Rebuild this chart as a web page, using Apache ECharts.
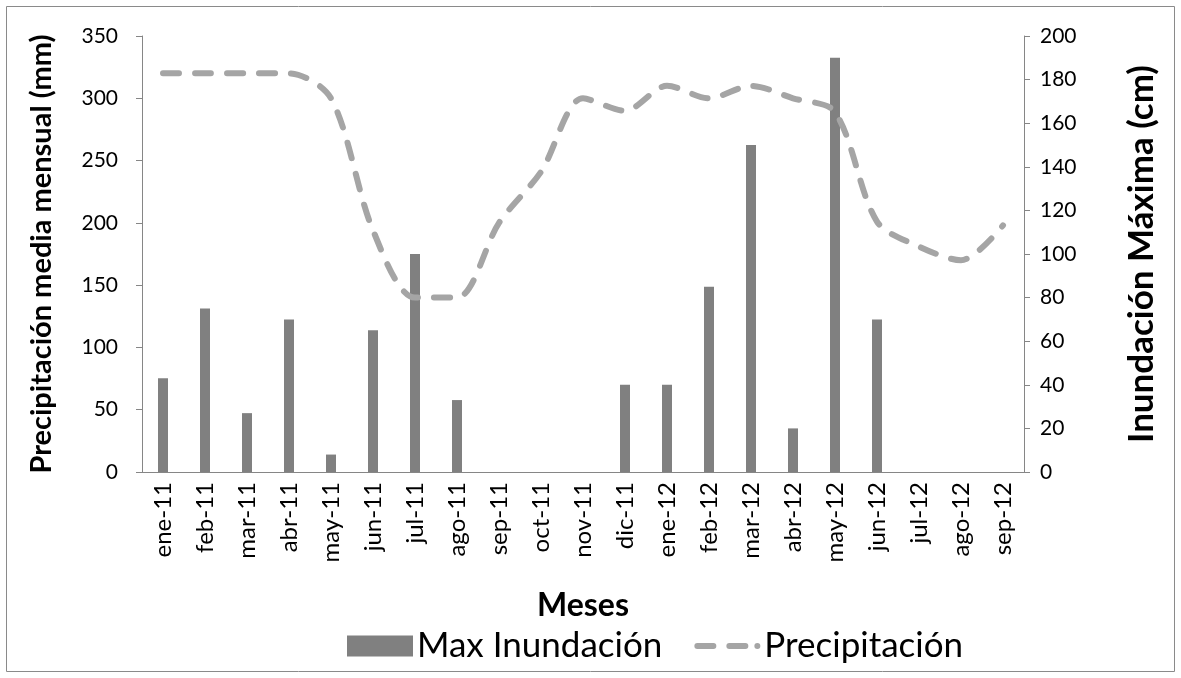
<!DOCTYPE html>
<html>
<head>
<meta charset="utf-8">
<script src="https://cdn.jsdelivr.net/npm/echarts@6/dist/echarts.min.js"></script>
<style>
  html, body { margin: 0; padding: 0; background: #fff; }
  #chart { width: 1181px; height: 678px; }
</style>
</head>
<body>
<div id="chart"></div>
<script>
// Months of the record (Jan 2011 – Sep 2012)
const meses = ['ene-11','feb-11','mar-11','abr-11','may-11','jun-11','jul-11','ago-11','sep-11','oct-11',
  'nov-11','dic-11','ene-12','feb-12','mar-12','abr-12','may-12','jun-12','jul-12','ago-12','sep-12'];

// Maximum flood depth per month (cm), right axis
const maxInundacion = [43, 75, 27, 70, 8, 65, 100, 33, 0, 0, 0, 40, 40, 85, 150, 20, 190, 70, 0, 0, 0];

// Mean monthly precipitation (mm), left axis
const precipitacion = [320, 320, 320, 320, 300, 194, 140, 140, 200, 241, 300, 290, 310, 300, 310, 300, 289, 201, 181, 170, 198];

const FONT = 'Lato, "Open Sans", sans-serif';

// Legend key for the dashed line: two rounded dashes and a dot in a 66x21 box
function capsule(a, b) {
  return 'M' + (a + 3) + ' 7.5L' + (b - 3) + ' 7.5A3 3 0 0 1 ' + (b - 3) + ' 13.5L' + (a + 3) +
    ' 13.5A3 3 0 0 1 ' + (a + 3) + ' 7.5Z';
}
const dashIcon = 'path://M0 0h0.01v0.01h-0.01Z M65.99 20.99h0.01v0.01h-0.01Z ' +
  capsule(0, 22) + ' ' + capsule(32, 54) + ' M60 10.5A3 3 0 1 1 66 10.5A3 3 0 1 1 60 10.5Z';

const chart = echarts.init(document.getElementById('chart'), null, { renderer: 'canvas' });

chart.setOption({
  backgroundColor: '#ffffff',
  animation: false,
  graphic: [{
    type: 'rect',
    shape: { x: 6.5, y: 6.5, width: 1168, height: 665 },
    style: { fill: 'none', stroke: '#8a8a8a', lineWidth: 1 },
    silent: true,
    z: -1
  }],
  grid: { left: 142, right: 157, top: 36, bottom: 206, containLabel: false },
  legend: {
    left: 347,
    top: 625,
    padding: 0,
    itemWidth: 66,
    itemHeight: 21,
    itemGap: 32,
    textStyle: { fontFamily: FONT, fontSize: 35, lineHeight: 42, color: '#000', padding: [0, 0, 0, -1] },
    data: [
      { name: 'Max Inundación', icon: 'rect' },
      { name: 'Precipitación', icon: dashIcon }
    ]
  },
  xAxis: {
    type: 'category',
    data: meses,
    name: 'Meses',
    nameLocation: 'middle',
    nameGap: 118,
    nameTextStyle: { fontFamily: FONT, fontSize: 32, fontWeight: 'bold', color: '#000' },
    axisLine: { lineStyle: { color: '#868686', width: 1 } },
    axisTick: { show: false },
    axisLabel: { rotate: 90, interval: 0, margin: 10, fontFamily: FONT, fontSize: 24, color: '#000' }
  },
  yAxis: [
    {
      type: 'value',
      min: 0, max: 350, interval: 50,
      name: 'Precipitación media mensual (mm)',
      nameLocation: 'middle',
      nameGap: 86,
      nameRotate: 90,
      nameTextStyle: { fontFamily: FONT, fontSize: 29, fontWeight: 'bold', color: '#000' },
      axisLine: { show: true, lineStyle: { color: '#868686', width: 1 } },
      axisTick: { show: true, length: 6, lineStyle: { color: '#868686' } },
      axisLabel: { margin: 24, fontFamily: FONT, fontSize: 21, color: '#000' },
      splitLine: { show: false }
    },
    {
      type: 'value',
      min: 0, max: 200, interval: 20,
      name: 'Inundación Máxima (cm)',
      nameLocation: 'middle',
      nameGap: 100,
      nameRotate: 90,
      nameTextStyle: { fontFamily: FONT, fontSize: 35, fontWeight: 'bold', color: '#000' },
      axisLine: { show: true, lineStyle: { color: '#868686', width: 1 } },
      axisTick: { show: true, length: 6, lineStyle: { color: '#868686' } },
      axisLabel: { margin: 16, fontFamily: FONT, fontSize: 21, color: '#000' },
      splitLine: { show: false }
    }
  ],
  series: [
    {
      name: 'Max Inundación',
      type: 'bar',
      yAxisIndex: 1,
      data: maxInundacion,
      barWidth: 10,
      itemStyle: { color: '#808080' }
    },
    {
      name: 'Precipitación',
      type: 'line',
      yAxisIndex: 0,
      data: precipitacion,
      smooth: 0.3,
      symbol: 'none',
      itemStyle: { color: '#a5a5a5' },
      lineStyle: { color: '#a5a5a5', width: 6, type: [16, 16], cap: 'round', join: 'round' },
      z: 3
    }
  ]
});
</script>
</body>
</html>
